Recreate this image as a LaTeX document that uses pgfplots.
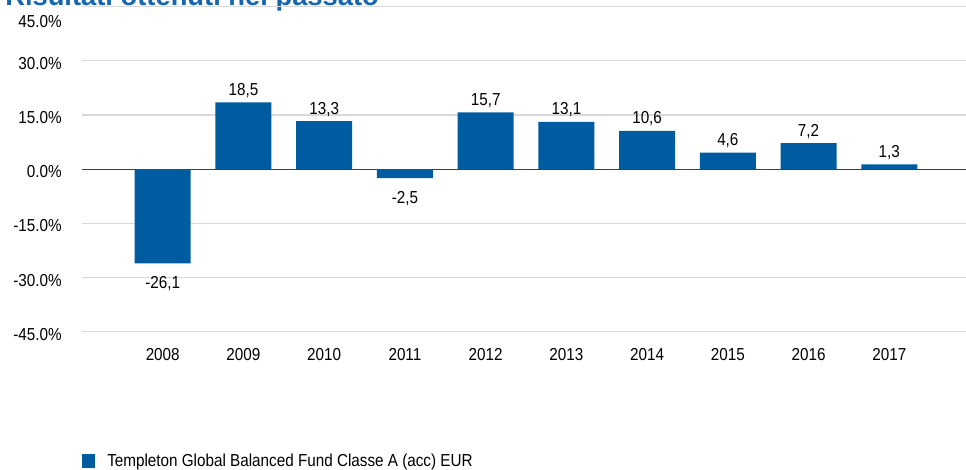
\documentclass[border=0pt]{standalone}
\usepackage{pgfplots}
\pgfplotsset{compat=1.18}
\usepackage{fontspec}
\setmainfont{Liberation Sans}[FakeStretch=0.88]
\newfontfamily\titlefont{Liberation Sans}
\definecolor{barblue}{RGB}{0,92,160}
\definecolor{titleblue}{RGB}{21,101,176}
\definecolor{gridgray}{RGB}{217,217,217}
\definecolor{zerogray}{RGB}{64,64,64}
\begin{document}
\begin{tikzpicture}
\useasboundingbox (0,0) rectangle (724.5pt,351.75pt);
\node[anchor=base west, inner sep=0pt, font=\titlefont\fontsize{20.5pt}{24pt}\selectfont\bfseries, text=titleblue] at (3.75pt,347.25pt) {Risultati ottenuti nel passato};
\begin{axis}[
  at={(61.5pt,103pt)}, anchor=south west,
  scale only axis, width=663pt, height=243.75pt,
  xmin=-1, xmax=9.95, ymin=-45, ymax=45,
  ytick={-45,-30,...,45},
  xtick={0,...,9},
  xticklabels={2008,2009,2010,2011,2012,2013,2014,2015,2016,2017},
  yticklabel={\pgfmathprintnumber[fixed,fixed zerofill,precision=1]{\tick}\%},
  /pgf/number format/assume math mode=true,
  axis line style={draw=none},
  major tick length=0pt,
  ymajorgrids, major grid style={gridgray, line width=0.8pt},
  extra y ticks={0}, extra y tick labels={},
  extra y tick style={major grid style={zerogray, line width=0.9pt}},
  tick label style={font=\fontsize{13pt}{15pt}\selectfont},
  yticklabel style={anchor=east, inner sep=0pt, xshift=-15pt, yshift={ifthenelse(\ticknum==6,-11,-2)*1pt}},
  xticklabel style={anchor=north, inner sep=0pt, yshift=-12pt},
  ybar, bar width=42pt,
  nodes near coords={\rule{0pt}{15.3pt}\pgfmathprintnumber[fixed,fixed zerofill,precision=1,use comma]{\pgfplotspointmeta}},
  nodes near coords style={font=\fontsize{13pt}{15pt}\selectfont, text=black, /pgf/number format/assume math mode=true},
  legend style={at={(axis description cs:0,0)}, anchor=west, yshift=-97pt, draw=none, inner sep=0pt, font=\fontsize{13pt}{15pt}\selectfont, /tikz/every even column/.append style={column sep=0pt}},
  legend image code/.code={\fill[barblue] (0pt,-4.9pt) rectangle (9.75pt,4.9pt); \path (16.75pt,0pt);},
]
\addplot[fill=barblue, draw=none] coordinates {
  (0,-26.1) (1,18.5) (2,13.3) (3,-2.5) (4,15.7) (5,13.1) (6,10.6) (7,4.6) (8,7.2) (9,1.3)
};
\addlegendentry{Templeton Global Balanced Fund Classe A (acc) EUR}
\end{axis}
\end{tikzpicture}
\end{document}
